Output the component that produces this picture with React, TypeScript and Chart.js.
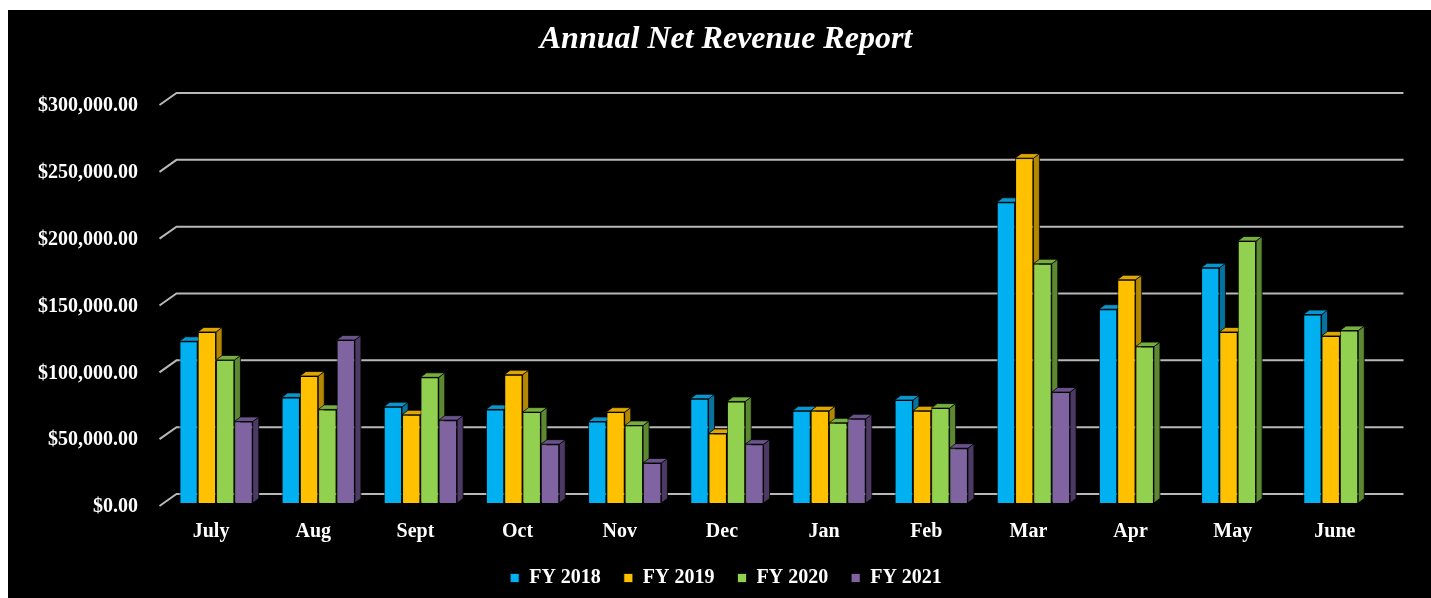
import React, { useEffect, useRef } from "react";
import { Chart, registerables } from "chart.js";

Chart.register(...registerables);

// ---- Data ----
const MONTHS = ["July", "Aug", "Sept", "Oct", "Nov", "Dec", "Jan", "Feb", "Mar", "Apr", "May", "June"];
const SERIES_NAMES = ["FY 2018", "FY 2019", "FY 2020", "FY 2021"];
const FY2018 = [121000, 79000, 72000, 70000, 61000, 78000, 69000, 77000, 225000, 145000, 176000, 141000];
const FY2019 = [128000, 95000, 66000, 96000, 68000, 52000, 69000, 69000, 258000, 167000, 128000, 125000];
const FY2020 = [107000, 70000, 94000, 68000, 58000, 76000, 60000, 71000, 179000, 117000, 196000, 129000];
const FY2021 = [61000, 122000, 62000, 44000, 30000, 44000, 63000, 41000, 83000, null, null, null];
const Y_TICKS = [0, 50000, 100000, 150000, 200000, 250000, 300000];
const TITLE = "Annual Net Revenue Report";

// ---- Styles ----
const FRONT = ["#00B0F0", "#FFC000", "#92D050", "#8064A2"];
const TOPC = ["#0A95CC", "#DDA600", "#78AE3F", "#6A528A"];
const SIDE = ["#06729E", "#B38700", "#5B8830", "#4C3A64"];
const DX = 6;
const DY = 4.5;
const FONT = "'Liberation Serif', 'Times New Roman', serif";
const CANVAS_W = 1436;
const CANVAS_H = 588;

const fmt = (v: number) =>
  "$" + v.toLocaleString("en-US", { minimumFractionDigits: 2, maximumFractionDigits: 2 });

const depthPlugin = {
  id: "depth3d",
  beforeDatasetsDraw(chart: any) {
    const ctx = chart.ctx;
    const ys = chart.scales.y;
    const { left, right } = chart.chartArea;
    ctx.save();
    ctx.strokeStyle = "#b8b8b8";
    ctx.lineWidth = 2;
    for (const v of Y_TICKS) {
      const py = ys.getPixelForValue(v);
      ctx.beginPath();
      ctx.moveTo(left - 5.5, py + 3);
      ctx.lineTo(left + 11.5, py - 9);
      ctx.lineTo(right + 12.5, py - 9);
      ctx.stroke();
    }
    ctx.lineWidth = 1;
    ctx.strokeStyle = "rgba(0,0,0,0.75)";
    chart.data.datasets.forEach((ds: any, i: number) => {
      const meta = chart.getDatasetMeta(i);
      meta.data.forEach((bar: any, j: number) => {
        if (ds.data[j] == null) return;
        const p = bar.getProps(["x", "y", "base", "width"], true);
        const l = p.x - p.width / 2;
        const r = p.x + p.width / 2;
        const t = p.y;
        const b = p.base;
        ctx.fillStyle = SIDE[i];
        ctx.beginPath();
        ctx.moveTo(r, t);
        ctx.lineTo(r + DX, t - DY);
        ctx.lineTo(r + DX, b - DY);
        ctx.lineTo(r, b);
        ctx.closePath();
        ctx.fill();
        ctx.stroke();
        ctx.fillStyle = TOPC[i];
        ctx.beginPath();
        ctx.moveTo(l, t);
        ctx.lineTo(l + DX, t - DY);
        ctx.lineTo(r + DX, t - DY);
        ctx.lineTo(r, t);
        ctx.closePath();
        ctx.fill();
        ctx.stroke();
      });
    });
    ctx.restore();
  },
};

export default function App() {
  const ref = useRef<HTMLCanvasElement | null>(null);

  useEffect(() => {
    document.body.style.overflow = "hidden";
    document.documentElement.style.overflow = "hidden";
    document.documentElement.style.background = "#000";
    if (!ref.current) return;
    const seriesData = [FY2018, FY2019, FY2020, FY2021];
    const chart = new Chart(ref.current, {
      type: "bar",
      data: {
        labels: MONTHS,
        datasets: SERIES_NAMES.map((name, i) => ({
          label: name,
          data: seriesData[i],
          backgroundColor: FRONT[i],
          borderColor: "rgba(0,0,0,0.75)",
          borderWidth: 1,
          categoryPercentage: 0.718,
          barPercentage: 1,
        })),
      },
      options: {
        responsive: false,
        animation: false,
        layout: { padding: 0 },
        plugins: {
          title: {
            display: true,
            text: TITLE,
            color: "#ffffff",
            font: { family: FONT, size: 32, weight: "bold", style: "italic" },
            padding: { top: 11, bottom: 42.6 },
          },
          legend: {
            position: "bottom",
            labels: {
              color: "#ffffff",
              font: { family: FONT, size: 20, weight: "bold" },
              boxWidth: 9,
              boxHeight: 9,
              padding: 23,
            },
          },
          tooltip: { enabled: false },
        },
        scales: {
          x: {
            grid: { display: false, drawTicks: false },
            border: { display: false },
            ticks: {
              color: "#ffffff",
              font: { family: FONT, size: 20, weight: "bold" },
              padding: 17,
              labelOffset: -5,
            },
            afterFit: (s: any) => {
              s.height = 42;
            },
          },
          y: {
            min: 0,
            max: 300000,
            grid: { display: false, drawTicks: false },
            border: { display: false },
            ticks: {
              stepSize: 50000,
              color: "#ffffff",
              font: { family: FONT, size: 20, weight: "bold" },
              padding: 27,
              labelOffset: 4,
              callback: (v: any) => fmt(Number(v)),
            },
            afterFit: (s: any) => {
              s.width = 157;
            },
          },
          yRight: {
            type: "linear",
            position: "right",
            display: true,
            grid: { display: false, drawTicks: false },
            border: { display: false },
            ticks: { display: false },
            afterFit: (s: any) => {
              s.width = 53;
            },
          },
        },
      },
      plugins: [depthPlugin],
    });
    return () => chart.destroy();
  }, []);

  return (
    <>
      <div
        style={{
          position: "fixed",
          left: 8,
          top: 10,
          width: CANVAS_W,
          height: CANVAS_H,
          background: "#000",
        }}
      >
        <canvas ref={ref} width={CANVAS_W} height={CANVAS_H} style={{ display: "block" }} />
      </div>
      <div style={{ position: "fixed", left: 0, top: 0, width: "100%", height: 10, background: "#fff" }} />
      <div style={{ position: "fixed", left: 0, top: 0, width: 8, height: "100%", background: "#fff" }} />
    </>
  );
}
